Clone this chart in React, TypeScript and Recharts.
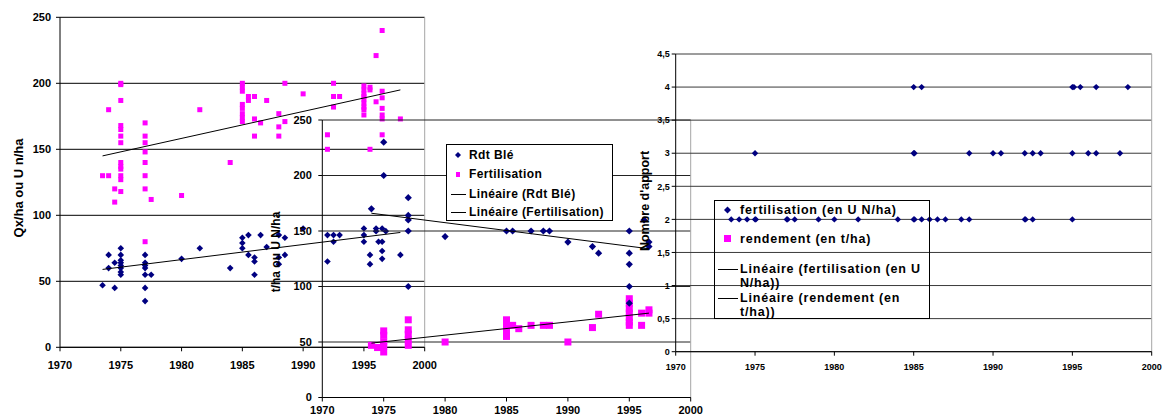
import React from "react";
import {
  ScatterChart,
  Scatter,
  XAxis,
  YAxis,
  CartesianGrid,
  ReferenceLine,
  Legend,
  Label,
} from "recharts";

const W = 1172;
const H = 416;
const NAVY = "#000080";
const PINK = "#FF00FF";
const FONT = "'Liberation Sans', Arial, sans-serif";

const YEAR_TICKS = [1970, 1975, 1980, 1985, 1990, 1995, 2000];
const QX_TICKS = [0, 50, 100, 150, 200, 250];
const APPORT_TICKS = [0, 0.5, 1, 1.5, 2, 2.5, 3, 3.5, 4, 4.5];

// graphique de gauche : rendement (Qx/ha) et fertilisation (U N/ha)
const leftRdt: [number, number][] = [
  [1973.5, 47], [1974, 70], [1974, 60], [1974.5, 64], [1974.5, 45],
  [1975, 75], [1975, 70], [1975, 66], [1975, 64], [1975, 62], [1975, 60], [1975, 57], [1975, 55],
  [1977, 70], [1977, 64], [1977, 62], [1977, 60], [1977, 55], [1977, 45], [1977, 35],
  [1977.5, 55], [1980, 67], [1981.5, 75], [1984, 60],
  [1985, 83], [1985, 79], [1985, 75], [1985.5, 85], [1985.5, 70],
  [1986, 68], [1986, 65], [1986, 55], [1986.5, 85], [1987, 76],
  [1988, 85], [1988, 68], [1988, 63], [1988.5, 83], [1988.5, 70], [1990, 90],
  [1992, 85], [1992, 65], [1992.5, 85], [1992.5, 80], [1993, 85],
  [1995, 90], [1995, 85], [1995, 80], [1995.5, 70], [1995.5, 63],
  [1996, 90], [1996, 88], [1996.2, 80],
  [1996.5, 90], [1996.5, 80], [1996.5, 73], [1996.5, 67], [1996.8, 88], [1998, 70],
];
const leftFert: [number, number][] = [
  [1973.5, 130], [1974, 180], [1974, 130], [1974.5, 120], [1974.5, 110],
  [1975, 200], [1975, 199], [1975, 187], [1975, 168], [1975, 165], [1975, 160], [1975, 155],
  [1975, 140], [1975, 137], [1975, 135], [1975, 130], [1975, 127], [1975, 118],
  [1977, 170], [1977, 160], [1977, 155], [1977, 148], [1977, 140], [1977, 130], [1977, 120], [1977, 80],
  [1977.5, 112], [1980, 115], [1981.5, 180], [1984, 140],
  [1985, 200], [1985, 197], [1985, 194], [1985, 184], [1985, 181], [1985, 177], [1985, 174], [1985, 171],
  [1985.5, 190], [1985.5, 187], [1986, 190], [1986, 173], [1986, 160], [1986.5, 170], [1987, 187],
  [1988, 177], [1988, 167], [1988, 160], [1988.5, 200], [1988.5, 171], [1990, 192],
  [1992, 161], [1992, 150], [1992.5, 200], [1992.5, 190], [1992.5, 182], [1993, 190],
  [1995, 198], [1995, 195], [1995, 192], [1995, 190], [1995, 188], [1995, 185], [1995, 182], [1995, 180], [1995, 176],
  [1995.5, 197], [1995.5, 195], [1995.5, 150], [1996, 221], [1996, 186],
  [1996.5, 240], [1996.5, 194], [1996.5, 189], [1996.5, 181], [1996.5, 176], [1996.5, 173], [1996.5, 161],
  [1998, 173],
];
const leftRdtTrend: [number, number][] = [[1973.5, 59], [1998, 87]];
const leftFertTrend: [number, number][] = [[1973.5, 145], [1998, 195]];

// graphique du milieu : Rdt Blé et Fertilisation (t/ha ou U N/ha)
const midRdt: [number, number][] = [
  [1974, 170], [1975, 230], [1975, 200],
  [1977, 180], [1977, 164], [1977, 160], [1977, 150], [1977, 100], [1980, 145],
  [1985, 150], [1985.5, 150], [1987, 150], [1988, 150], [1988.5, 150],
  [1990, 140], [1992, 136], [1992.5, 130],
  [1995, 150], [1995, 130], [1995, 120], [1995, 100], [1995, 85],
  [1996.2, 160], [1996.6, 140], [1996.6, 136],
];
const midFert: [number, number][] = [
  [1974, 47], [1974.5, 45], [1975, 60], [1975, 56], [1975, 50], [1975, 46], [1975, 41],
  [1977, 70], [1977, 61], [1977, 57], [1977, 52], [1977, 47], [1980, 50],
  [1985, 70], [1985, 66], [1985, 62], [1985, 58], [1985, 55], [1985.5, 65], [1986, 62],
  [1987, 65], [1988, 65], [1988.5, 65], [1990, 50], [1992, 63], [1992.5, 75],
  [1995, 89], [1995, 85], [1995, 80], [1995, 76], [1995, 72], [1995, 68], [1995, 65],
  [1996, 76], [1996, 65], [1996.6, 79], [1996.6, 76],
];
const midRdtTrend: [number, number][] = [[1974, 166], [1996.6, 134]];
const midFertTrend: [number, number][] = [[1974, 49], [1996.6, 76]];

// graphique de droite : nombre d'apports
const apports: [number, number][] = [
  [1985, 4], [1985.5, 4], [1995, 4], [1995.1, 4], [1995.5, 4], [1996.5, 4], [1998.5, 4],
  [1975, 3], [1985, 3], [1985.05, 3], [1988.5, 3], [1990, 3], [1990.5, 3], [1992, 3], [1992.5, 3], [1993, 3],
  [1995, 3], [1996, 3], [1996.5, 3], [1998, 3],
  [1973.5, 2], [1974, 2], [1974.5, 2], [1975, 2], [1975.05, 2], [1977, 2], [1977.05, 2], [1977.5, 2],
  [1979, 2], [1980, 2], [1981.5, 2], [1984, 2], [1985, 2], [1985.05, 2], [1985.5, 2], [1986, 2],
  [1986.5, 2], [1987, 2], [1988, 2], [1988.5, 2], [1992, 2], [1992.05, 2], [1992.5, 2], [1995, 2],
];

const MID_LEGEND = ["Rdt Blé", "Fertilisation", "Linéaire (Rdt Blé)", "Linéaire (Fertilisation)"];
const RIGHT_LEGEND = [
  ["fertilisation (en U N/ha)"],
  ["rendement (en t/ha)"],
  ["Linéaire (fertilisation (en U", "N/ha))"],
  ["Linéaire (rendement (en", "t/ha))"],
];

const pts = (rows: [number, number][]) => rows.map(([x, y]) => ({ x, y }));

const diamond = (r: number, fill: string) => (p: any) => (
  <path
    d={`M${p.cx},${p.cy - r}L${p.cx + r},${p.cy}L${p.cx},${p.cy + r}L${p.cx - r},${p.cy}Z`}
    fill={fill}
  />
);
const square = (s: number, fill: string) => (p: any) => (
  <rect x={p.cx - s / 2} y={p.cy - s / 2} width={s} height={s} fill={fill} />
);
const noDot = () => <g />;

const axisTitle = (text: string, x: number, y: number, size: number) => () => (
  <text
    x={x}
    y={y}
    transform={`rotate(-90 ${x} ${y})`}
    textAnchor="middle"
    dominantBaseline="central"
    fontFamily={FONT}
    fontWeight={700}
    fontSize={size}
    fill="#000"
  >
    {text}
  </text>
);

const tickStyle = (size: number) => ({ fontSize: size, fontWeight: 700, fill: "#000", fontFamily: FONT });
const comma = (v: number) => String(v).replace(".", ",");

function MidLegend() {
  const rowsY = [10, 29, 49, 67];
  return (
    <div
      style={{
        position: "relative",
        boxSizing: "border-box",
        width: 167,
        height: 77,
        border: "1px solid #000",
        background: "#fff",
        fontFamily: FONT,
        fontWeight: 700,
        fontSize: 12,
        letterSpacing: 0.4,
        color: "#000",
      }}
    >
      {MID_LEGEND.map((name, i) => (
        <div key={name} style={{ position: "absolute", left: 0, top: rowsY[i] - 8, height: 16, width: 165 }}>
          <svg width={22} height={16} style={{ position: "absolute", left: 0, top: 0 }}>
            {i === 0 && <path d="M11,5L14,8L11,11L8,8Z" fill={NAVY} />}
            {i === 1 && <rect x={9} y={6} width={4} height={5} fill={PINK} />}
            {i > 1 && <line x1={4} x2={19} y1={8.5} y2={8.5} stroke="#000" />}
          </svg>
          <span style={{ position: "absolute", left: 22, top: 0, lineHeight: "16px", whiteSpace: "nowrap" }}>
            {name}
          </span>
        </div>
      ))}
    </div>
  );
}

function RightLegend() {
  const rowsY = [9, 38, 68, 97];
  return (
    <div
      style={{
        position: "relative",
        boxSizing: "border-box",
        width: 216,
        height: 119,
        border: "1px solid #000",
        fontFamily: FONT,
        fontWeight: 700,
        fontSize: 12.5,
        letterSpacing: 0.8,
        color: "#000",
      }}
    >
      {RIGHT_LEGEND.map((lines, i) => (
        <div key={i} style={{ position: "absolute", left: 0, top: rowsY[i] - 8, width: 214 }}>
          <svg width={25} height={16} style={{ position: "absolute", left: 0, top: 0 }}>
            {i === 0 && <path d="M12.5,4.5L16,8L12.5,11.5L9,8Z" fill={NAVY} />}
            {i === 1 && <rect x={9} y={4} width={7} height={7} fill={PINK} />}
            {i > 1 && <line x1={3} x2={23} y1={8.5} y2={8.5} stroke="#000" />}
          </svg>
          {lines.map((t, j) => (
            <div
              key={t}
              style={{ position: "absolute", left: 25, top: j * 13.5, lineHeight: "16px", whiteSpace: "nowrap" }}
            >
              {t}
            </div>
          ))}
        </div>
      ))}
    </div>
  );
}

const layer: React.CSSProperties = { position: "absolute", left: 0, top: 0 };

export default function App() {
  return (
    <div style={{ position: "absolute", left: 0, top: 0, width: W, height: H, background: "#fff", overflow: "hidden" }}>
      {/* gauche */}
      <div style={layer}>
        <ScatterChart width={W} height={H} margin={{ top: 17.3, left: 20, right: W - 424.7, bottom: H - 347.3 - 25 }}>
          <CartesianGrid vertical={false} stroke="#000" />
          <XAxis
            type="number"
            dataKey="x"
            domain={[1970, 2000]}
            ticks={YEAR_TICKS}
            interval={0}
            height={25}
            tickSize={4}
            tickMargin={10}
            tick={tickStyle(11)}
            axisLine={{ stroke: "#000" }}
            tickLine={{ stroke: "#000" }}
          />
          <YAxis
            type="number"
            dataKey="y"
            domain={[0, 250]}
            ticks={QX_TICKS}
            interval={0}
            width={40}
            tickSize={4}
            tickMargin={5}
            tick={tickStyle(11)}
            axisLine={{ stroke: "#000" }}
            tickLine={{ stroke: "#000" }}
          >
            <Label content={axisTitle("Qx/ha ou U n/ha", 18, 188, 13)} />
          </YAxis>
          <ReferenceLine x={2000} stroke="#a6a6a6" />
          <Scatter data={pts(leftFert)} shape={square(5, PINK)} isAnimationActive={false} />
          <Scatter data={pts(leftRdt)} shape={diamond(3.3, NAVY)} isAnimationActive={false} />
          <Scatter data={pts(leftFertTrend)} line={{ stroke: "#000", strokeWidth: 1 }} shape={noDot} isAnimationActive={false} />
          <Scatter data={pts(leftRdtTrend)} line={{ stroke: "#000", strokeWidth: 1 }} shape={noDot} isAnimationActive={false} />
        </ScatterChart>
      </div>

      {/* milieu */}
      <div style={layer}>
        <ScatterChart width={W} height={H} margin={{ top: 120, left: 282.3, right: W - 690.7, bottom: H - 397.5 - 16 }}>
          <CartesianGrid vertical={false} stroke="#222" />
          <XAxis
            type="number"
            dataKey="x"
            domain={[1970, 2000]}
            ticks={YEAR_TICKS}
            interval={0}
            height={16}
            tickSize={4}
            tickMargin={4.5}
            tick={tickStyle(11)}
            axisLine={{ stroke: "#000" }}
            tickLine={{ stroke: "#000" }}
          />
          <YAxis
            type="number"
            dataKey="y"
            domain={[0, 250]}
            ticks={QX_TICKS}
            interval={0}
            width={40}
            tickSize={4}
            tickMargin={6.5}
            tick={tickStyle(11)}
            axisLine={{ stroke: "#000" }}
            tickLine={{ stroke: "#000" }}
          >
            <Label content={axisTitle("t/ha ou U N/ha", 276, 252, 12)} />
          </YAxis>
          <ReferenceLine x={2000} stroke="#a6a6a6" />
          <Scatter data={pts(midFert)} shape={square(7, PINK)} isAnimationActive={false} />
          <Scatter data={pts(midRdt)} shape={diamond(3.6, NAVY)} isAnimationActive={false} />
          <Scatter data={pts(midRdtTrend)} line={{ stroke: "#000", strokeWidth: 1 }} shape={noDot} isAnimationActive={false} />
          <Scatter data={pts(midFertTrend)} line={{ stroke: "#000", strokeWidth: 1 }} shape={noDot} isAnimationActive={false} />
          <Legend
            layout="horizontal"
            verticalAlign="middle"
            align="center"
            wrapperStyle={{ left: 446, top: 144, width: 167, height: 77 }}
            content={() => <MidLegend />}
          />
        </ScatterChart>
      </div>

      {/* droite */}
      <div style={layer}>
        <ScatterChart width={W} height={H} margin={{ top: 54, left: 645.7, right: W - 1151.7, bottom: H - 351.7 - 25 }}>
          <CartesianGrid vertical={false} stroke="#3a3a3a" />
          <XAxis
            type="number"
            dataKey="x"
            domain={[1970, 2000]}
            ticks={YEAR_TICKS}
            interval={0}
            height={25}
            tickSize={4}
            tickMargin={8}
            tick={tickStyle(9)}
            axisLine={{ stroke: "#000" }}
            tickLine={{ stroke: "#000" }}
          />
          <YAxis
            type="number"
            dataKey="y"
            domain={[0, 4.5]}
            ticks={APPORT_TICKS}
            interval={0}
            width={30}
            tickSize={4}
            tickMargin={2}
            tick={tickStyle(9)}
            tickFormatter={comma}
            axisLine={{ stroke: "#000" }}
            tickLine={{ stroke: "#000" }}
          >
            <Label content={axisTitle("Nombre d'apport", 645, 201, 12.5)} />
          </YAxis>
          <ReferenceLine x={2000} stroke="#a6a6a6" />
          <Scatter data={pts(apports)} shape={diamond(3.2, NAVY)} isAnimationActive={false} />
          <Legend
            layout="horizontal"
            verticalAlign="middle"
            align="center"
            wrapperStyle={{ left: 714, top: 200, width: 216, height: 119 }}
            content={() => <RightLegend />}
          />
        </ScatterChart>
      </div>
    </div>
  );
}
